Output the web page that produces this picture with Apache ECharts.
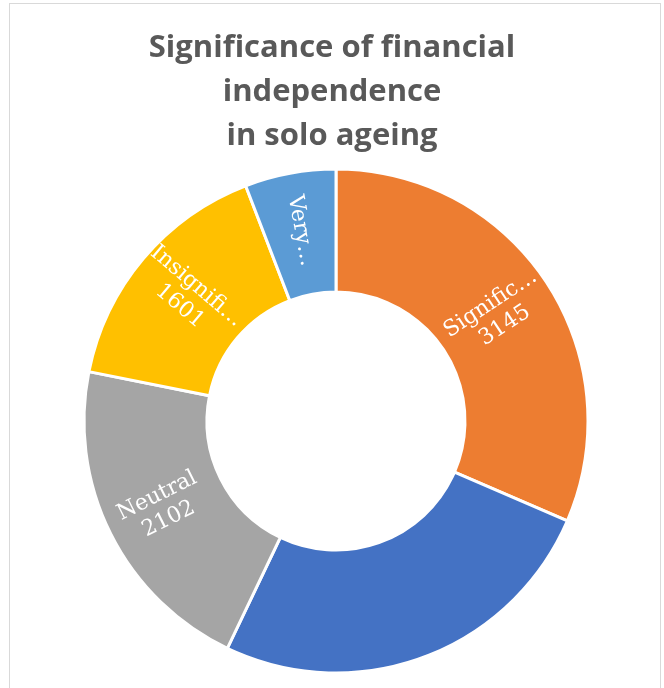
<!DOCTYPE html>
<html>
<head>
<meta charset="utf-8">
<script src="https://cdn.jsdelivr.net/npm/echarts@6/dist/echarts.min.js"></script>
<style>
  html, body { margin: 0; padding: 0; background: #fff; }
  #frame { position: absolute; left: 9px; top: 3px; width: 652px; height: 700px; border: 1px solid #d9d9d9; box-sizing: border-box; }
  #chart { position: absolute; left: 0; top: 0; width: 664px; height: 688px; }
</style>
</head>
<body>
<div id="frame"></div>
<div id="chart"></div>
<script>
// Survey responses: how significant financial independence is in solo ageing
const categories = ['Significant', 'Very significant', 'Neutral', 'Insignificant', 'Very insignificant'];
const counts = [3145, 2559, 2102, 1601, 583];
// Text shown inside each ring segment (shortened where the segment is narrow)
const segmentLabels = ['Signific…', '', 'Neutral', 'Insignifi…', 'Very…'];
const showCount = [true, false, true, true, false];
const colors = ['#ED7D31', '#4472C4', '#A5A5A5', '#FFC000', '#5B9BD5'];

const chart = echarts.init(document.getElementById('chart'), null, { renderer: 'canvas' });

chart.setOption({
  backgroundColor: 'transparent',
  animation: false,
  title: {
    text: 'Significance of financial\nindependence\nin solo ageing',
    left: 'center',
    top: 21,
    textStyle: {
      fontFamily: 'Open Sans',
      fontWeight: 'bold',
      fontSize: 31,
      lineHeight: 44,
      color: '#595959'
    }
  },
  series: [{
    type: 'pie',
    center: [336, 421],
    radius: [129, 252],
    startAngle: 90,
    clockwise: true,
    avoidLabelOverlap: false,
    itemStyle: { borderColor: '#fff', borderWidth: 3 },
    label: {
      show: true,
      position: 'inside',
      rotate: 'radial',
      color: '#fff',
      fontFamily: 'DejaVu Serif',
      fontSize: 22,
      lineHeight: 26,
      align: 'center',
      formatter: p => {
        const i = p.dataIndex;
        if (!segmentLabels[i]) return '';
        return showCount[i] ? segmentLabels[i] + '\n' + p.value : segmentLabels[i];
      }
    },
    labelLine: { show: false },
    emphasis: { disabled: true },
    data: categories.map((name, i) => ({
      name,
      value: counts[i],
      itemStyle: { color: colors[i] }
    }))
  }]
});
</script>
</body>
</html>
